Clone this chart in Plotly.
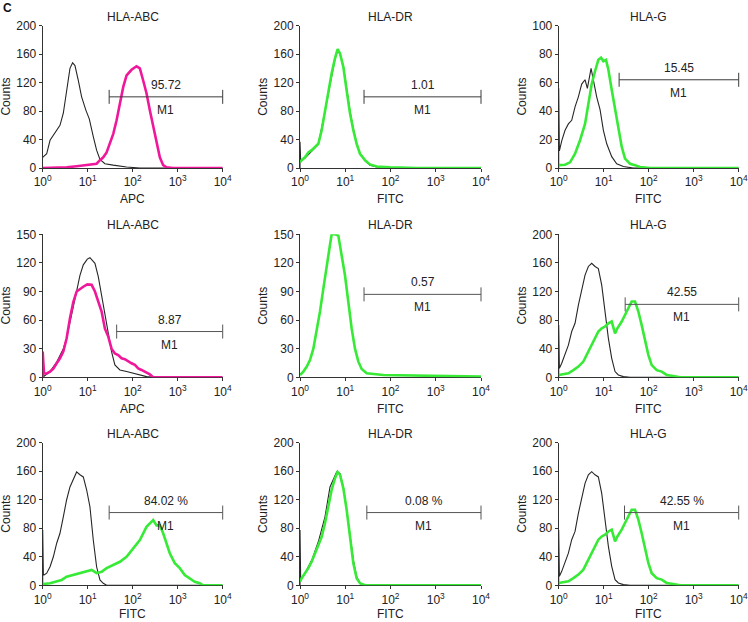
import math
import plotly.graph_objects as go

# ---------------- data (log10 fluorescence positions, counts) ----------------
titles = ["HLA-ABC", "HLA-DR", "HLA-G",
          "HLA-ABC", "HLA-DR", "HLA-G",
          "HLA-ABC", "HLA-DR", "HLA-G"]
xlabels = ["APC", "FITC", "FITC",
           "APC", "FITC", "FITC",
           "FITC", "FITC", "FITC"]
ymax = [200, 200, 100, 150, 150, 200, 200, 200, 200]
ytick_step = [40, 40, 20, 30, 30, 40, 40, 40, 40]
gate_start = [30, 26, 22, 44, 26, 30, 30, 30, 29]
gate_end = [1e4] * 9
gate_level = [100, 100, 62, 48, 87, 102, 102, 102, 102]
gate_text = ["95.72", "1.01", "15.45", "8.87", "0.57", "42.55",
             "84.02 %", "0.08 %", "42.55 %"]
stain_colour = ["magenta", "green", "green", "magenta", "green", "green",
                "green", "green", "green"]
x_tick_vals = [1, 10, 100, 1000, 10000]
x_tick_text = ["10<sup>0</sup>", "10<sup>1</sup>", "10<sup>2</sup>",
               "10<sup>3</sup>", "10<sup>4</sup>"]

# row 1
p1_iso_logx = [0, 0.089, 0.163, 0.237, 0.311, 0.384, 0.458, 0.532, 0.606, 0.665, 0.717, 0.791,
               0.865, 0.961, 1.035, 1.124, 1.198, 1.272, 1.383, 1.567, 1.863, 2.16, 4]
p1_iso_cnt = [15, 20, 39, 46, 53, 60, 77, 109, 140, 148, 144, 123, 100, 81, 69, 44, 25, 12, 6,
              4, 1.4, 0, 0]
p1_st_logx = [0, 0.532, 0.754, 0.976, 1.198, 1.272, 1.346, 1.420, 1.494, 1.568, 1.642, 1.716,
              1.790, 1.864, 1.974, 2.085, 2.159, 2.233, 2.307, 2.381, 2.455, 2.529, 2.603, 2.677,
              2.750, 2.898, 4]
p1_st_cnt = [0, 1, 2.5, 4, 6, 11, 15, 22, 34, 48, 67, 91, 114, 130, 138, 143, 140, 123, 105, 81,
             58, 37, 15, 4, 1, 0, 0]

p2_iso_logx = [0, 0, 0.015, 0.11, 0.258, 0.405, 0.552, 0.7, 0.773, 0.832, 0.884, 0.958, 1.031,
               1.105, 1.179, 1.252, 1.326, 1.436, 1.547, 1.694, 2.0, 4]
p2_iso_cnt = [0, 37, 10, 14, 24, 33, 80, 132, 153, 165, 160, 144, 112, 80, 55, 35, 20, 10, 4,
              1.5, 0, 0]
p2_st_logx = [0, 0.037, 0.11, 0.184, 0.258, 0.331, 0.405, 0.479, 0.552, 0.626, 0.7, 0.773,
              0.832, 0.884, 0.958, 1.031, 1.105, 1.179, 1.252, 1.326, 1.436, 1.547, 1.694, 1.989,
              2.578, 4]
p2_st_cnt = [8, 11, 15, 22, 25, 30, 34, 53, 81, 105, 133, 154, 167, 161, 142, 109, 77, 53, 34,
             20, 11, 5, 2, 1, 0, 0]

p3_iso_logx = [0, 0, 0.015, 0.067, 0.141, 0.215, 0.289, 0.363, 0.437, 0.511, 0.585, 0.637,
               0.681, 0.719, 0.77, 0.844, 0.919, 0.993, 1.067, 1.178, 1.289, 1.437, 1.659, 4]
p3_iso_cnt = [0, 56, 12, 19, 26.5, 31, 33.5, 43, 50, 59, 62, 56, 63, 70, 62, 50, 41, 26.5, 17,
              8, 3, 1, 0, 0]
p3_st_logx = [0, 0.141, 0.252, 0.363, 0.474, 0.585, 0.659, 0.733, 0.807, 0.881, 0.941, 0.993,
              1.052, 1.104, 1.178, 1.252, 1.326, 1.4, 1.474, 1.585, 1.696, 1.807, 2.03, 4]
p3_st_cnt = [2, 2.3, 4, 10, 19.5, 31, 45, 59, 68, 76, 77.5, 75, 76, 69, 55, 41, 26.5, 15, 6.6,
             3, 2, 0.7, 0, 0]

# row 2
p4_iso_logx = [0, 0.052, 0.163, 0.311, 0.458, 0.532, 0.606, 0.68, 0.754, 0.828, 0.902, 0.991,
               1.05, 1.161, 1.235, 1.309, 1.383, 1.457, 1.53, 1.604, 1.715, 1.863, 2.011, 2.159,
               2.307, 2.455, 4]
p4_iso_cnt = [0, 2, 6, 16, 30, 41, 58, 76, 93, 107, 118, 124, 125.5, 119.6, 105.6, 86, 65, 44,
              27, 13, 7.7, 6, 4, 2.4, 0.7, 0, 0]
p4_st_logx = [0, 0, 0.015, 0.03, 0.089, 0.163, 0.237, 0.311, 0.384, 0.458, 0.532, 0.606, 0.68,
              0.754, 0.828, 0.902, 0.991, 1.087, 1.161, 1.235, 1.309, 1.383, 1.457, 1.53, 1.604,
              1.678, 1.752, 1.826, 1.9, 1.974, 2.048, 2.122, 2.196, 2.27, 2.381, 2.455, 4]
p4_st_cnt = [0, 27, 15, 4, 4, 6, 9, 14.7, 20, 27, 41, 62, 79, 90, 93, 95, 97.5, 97, 90, 79, 69,
             51, 42.7, 30, 25, 23.4, 20, 19, 16.4, 14.7, 13, 9.4, 7.7, 6, 3, 0, 0]

p5_st_logx = [0, 0.074, 0.147, 0.221, 0.295, 0.368, 0.442, 0.516, 0.589, 0.663, 0.7, 0.773,
              0.847, 0.921, 0.994, 1.068, 1.142, 1.215, 1.289, 1.363, 1.473, 1.842, 2.2, 2.578,
              2.9, 3.315, 3.6, 4]
p5_st_cnt = [2.4, 6, 11, 18, 30, 48, 69, 93, 118, 139, 150, 150, 148.6, 128, 107, 79, 51, 30,
             16.4, 8.7, 4.2, 2.4, 2, 1.7, 1.5, 1.4, 1, 0.7]

p6_iso_logx = [0, 0, 0.015, 0.067, 0.141, 0.215, 0.289, 0.363, 0.437, 0.511, 0.585, 0.659,
               0.733, 0.807, 0.881, 0.956, 1.03, 1.104, 1.178, 1.252, 1.326, 1.437, 1.585, 4]
p6_iso_cnt = [0, 73, 12.6, 19.6, 31, 45, 64, 75.5, 101, 124.5, 143, 155, 159.4, 155, 152, 129,
              92, 54.5, 26.6, 8, 3.3, 1, 0, 0]
p6_st_logx = [0, 0.104, 0.215, 0.326, 0.437, 0.548, 0.659, 0.77, 0.881, 0.956, 1.03, 1.104,
              1.178, 1.252, 1.304, 1.4, 1.474, 1.548, 1.622, 1.696, 1.77, 1.844, 1.919, 1.993,
              2.067, 2.178, 2.289, 2.4, 2.548, 2.696, 4]
p6_st_cnt = [3.3, 4.2, 5.6, 10, 15, 22, 36, 50, 64, 68.5, 71, 75.5, 78, 61.5, 68.5, 78, 87,
             96.5, 106, 106, 92, 73, 50, 31, 17, 10, 8, 3.3, 1.9, 0, 0]

# row 3
p7_iso_logx = [0, 0, 0.015, 0.03, 0.089, 0.163, 0.237, 0.311, 0.384, 0.458, 0.532, 0.606, 0.68,
               0.754, 0.828, 0.902, 0.976, 1.05, 1.124, 1.198, 1.272, 1.346, 1.42, 4]
p7_iso_cnt = [0, 77.6, 14.5, 14.5, 17, 26, 40, 59, 73, 96, 120, 138, 148, 159, 155, 152, 134,
              110, 63.5, 26, 7.5, 2.8, 0, 0]
p7_st_logx = [0, 0.015, 0.163, 0.311, 0.421, 0.532, 0.68, 0.828, 0.976, 1.087, 1.198, 1.309,
              1.42, 1.568, 1.715, 1.863, 2.011, 2.159, 2.307, 2.381, 2.455, 2.529, 2.603, 2.677,
              2.75, 2.824, 2.935, 3.046, 3.157, 3.268, 3.379, 3.49, 3.564, 4]
p7_st_cnt = [1.5, 1.9, 2.8, 5, 7.5, 12, 14.5, 17, 20, 21.5, 17, 19, 24, 28.5, 33, 40, 52, 63.5,
             82, 87, 91.6, 84, 84, 73, 59, 45, 31, 24, 14.5, 10, 5, 2.8, 0, 0]

p8_iso_logx = [0, 0, 0.015, 0.11, 0.258, 0.405, 0.552, 0.663, 0.737, 0.81, 0.884, 0.958, 1.031,
               1.105, 1.179, 1.252, 1.326, 1.4, 4]
p8_iso_cnt = [0, 77.6, 7.5, 17, 35, 61, 96, 138, 150, 159, 157, 138, 106, 73, 35.5, 12, 2.8, 0,
              0]
p8_st_logx = [0, 0.037, 0.11, 0.184, 0.258, 0.331, 0.405, 0.479, 0.552, 0.626, 0.7, 0.773,
              0.832, 0.884, 0.958, 1.031, 1.105, 1.179, 1.252, 1.326, 1.436, 4]
p8_st_cnt = [5, 10, 17, 24, 33, 45, 56.5, 68, 87, 110, 134, 150, 159, 155, 136, 106, 68, 31,
             10, 2.8, 0, 0]

p9_iso_logx = [0, 0, 0.015, 0.067, 0.141, 0.215, 0.289, 0.363, 0.437, 0.511, 0.585, 0.659,
               0.733, 0.807, 0.881, 0.956, 1.03, 1.104, 1.178, 1.252, 1.326, 1.437, 1.585, 4]
p9_iso_cnt = [0, 77.6, 12.6, 19.6, 31, 45, 64, 75.5, 101, 124.5, 143, 155, 159.4, 155, 152,
              129, 92, 54.5, 26.6, 8, 3.3, 1, 0, 0]
p9_st_logx = p6_st_logx
p9_st_cnt = p6_st_cnt

iso_series = [(p1_iso_logx, p1_iso_cnt), (p2_iso_logx, p2_iso_cnt), (p3_iso_logx, p3_iso_cnt),
              (p4_iso_logx, p4_iso_cnt), None, (p6_iso_logx, p6_iso_cnt),
              (p7_iso_logx, p7_iso_cnt), (p8_iso_logx, p8_iso_cnt), (p9_iso_logx, p9_iso_cnt)]
stain_series = [(p1_st_logx, p1_st_cnt), (p2_st_logx, p2_st_cnt), (p3_st_logx, p3_st_cnt),
                (p4_st_logx, p4_st_cnt), (p5_st_logx, p5_st_cnt), (p6_st_logx, p6_st_cnt),
                (p7_st_logx, p7_st_cnt), (p8_st_logx, p8_st_cnt), (p9_st_logx, p9_st_cnt)]

# ---------------- layout geometry ----------------
W, H = 748, 622
col_px = [(42.7, 222.7), (300, 481), (558.7, 738.7)]
row_px = [(25.7, 168), (234.3, 377.3), (442.7, 585.3)]   # top, bottom in pixels
xtitle_shift = [-31, -32, -29]
COLOURS = {"magenta": "#f0189a", "green": "#36ea36"}
FONT = "Liberation Sans, Arial, sans-serif"

fig = go.Figure()
layout = dict(width=W, height=H, autosize=False,
              margin=dict(l=0, r=0, t=0, b=0, pad=0, autoexpand=False),
              paper_bgcolor="white", plot_bgcolor="white", showlegend=False,
              font=dict(family=FONT, size=12, color="#222"))
annotations = []

for i in range(9):
    r, c = divmod(i, 3)
    n = "" if i == 0 else str(i + 1)
    xa, ya = "x" + n, "y" + n
    x0, x1 = col_px[c]
    top, bot = row_px[r]
    layout["xaxis" + n] = dict(
        type="log", range=[0, 4], domain=[x0 / W, x1 / W], anchor=ya, automargin=False,
        tickvals=x_tick_vals, ticktext=x_tick_text, ticks="outside", ticklen=3,
        ticklabeloverflow="allow",
        tickcolor="#333", showline=True, linecolor="#333", linewidth=1, showgrid=False,
        zeroline=False, layer="below traces", tickfont=dict(size=12, family=FONT))
    layout["yaxis" + n] = dict(
        range=[0, ymax[i]], domain=[(H - bot) / H, (H - top) / H], anchor=xa,
        automargin=False, ticklabeloverflow="allow",
        tickmode="linear", tick0=0, dtick=ytick_step[i], ticks="outside", ticklen=3,
        tickcolor="#333", showline=True, linecolor="#333", linewidth=1, showgrid=False,
        zeroline=False, layer="below traces", tickfont=dict(size=12, family=FONT))

    if iso_series[i] is not None:
        lx, cnt = iso_series[i]
        fig.add_trace(go.Scatter(x=[10 ** v for v in lx], y=cnt, mode="lines",
                                 line=dict(color="#262626", width=1.1),
                                 xaxis=xa, yaxis=ya, hoverinfo="skip"))
    lx, cnt = stain_series[i]
    fig.add_trace(go.Scatter(x=[10 ** v for v in lx], y=cnt, mode="lines",
                             line=dict(color=COLOURS[stain_colour[i]], width=2.6),
                             xaxis=xa, yaxis=ya, hoverinfo="skip"))
    # M1 gate marker
    gcol = "#3a3a3a" if r == 0 else "#555555"
    fig.add_trace(go.Scatter(x=[gate_start[i], gate_end[i]], y=[gate_level[i]] * 2,
                             mode="lines+markers", cliponaxis=False,
                             line=dict(color=gcol, width=1),
                             marker=dict(symbol="line-ns", size=10,
                                         line=dict(color=gcol, width=1)),
                             xaxis=xa, yaxis=ya, hoverinfo="skip"))
    xc = (math.log10(gate_start[i]) + math.log10(gate_end[i])) / 2
    annotations.append(dict(x=xc, y=gate_level[i], xref=xa, yref=ya, text=gate_text[i],
                            showarrow=False, yshift=12, font=dict(size=12, family=FONT)))
    annotations.append(dict(x=xc, y=gate_level[i], xref=xa, yref=ya, text="M1",
                            showarrow=False, yshift=-13, font=dict(size=12, family=FONT)))
    # panel title
    annotations.append(dict(x=0.5, y=1, xref=xa + " domain", yref=ya + " domain",
                            text=titles[i], showarrow=False, yshift=9, yanchor="middle",
                            font=dict(size=12, family=FONT)))
    # axis titles
    annotations.append(dict(x=0.5, y=0, xref=xa + " domain", yref=ya + " domain",
                            text=xlabels[i], showarrow=False, yshift=xtitle_shift[r],
                            yanchor="middle", font=dict(size=12, family=FONT)))
    annotations.append(dict(x=0, y=0.5, xref=xa + " domain", yref=ya + " domain",
                            text="Counts", showarrow=False, xshift=-37, textangle=-90,
                            xanchor="center", yanchor="middle",
                            font=dict(size=12, family=FONT)))

annotations.append(dict(x=1 / W, y=1 - 8 / H, xref="paper", yref="paper", text="<b>C</b>",
                        showarrow=False, xanchor="left", yanchor="middle",
                        font=dict(size=12, family=FONT, color="#111")))
layout["annotations"] = annotations
fig.update_layout(**layout)
fig.write_html("out.html", config={"displayModeBar": False},
               post_script="document.body.style.margin='0';document.body.style.overflow='hidden';")
